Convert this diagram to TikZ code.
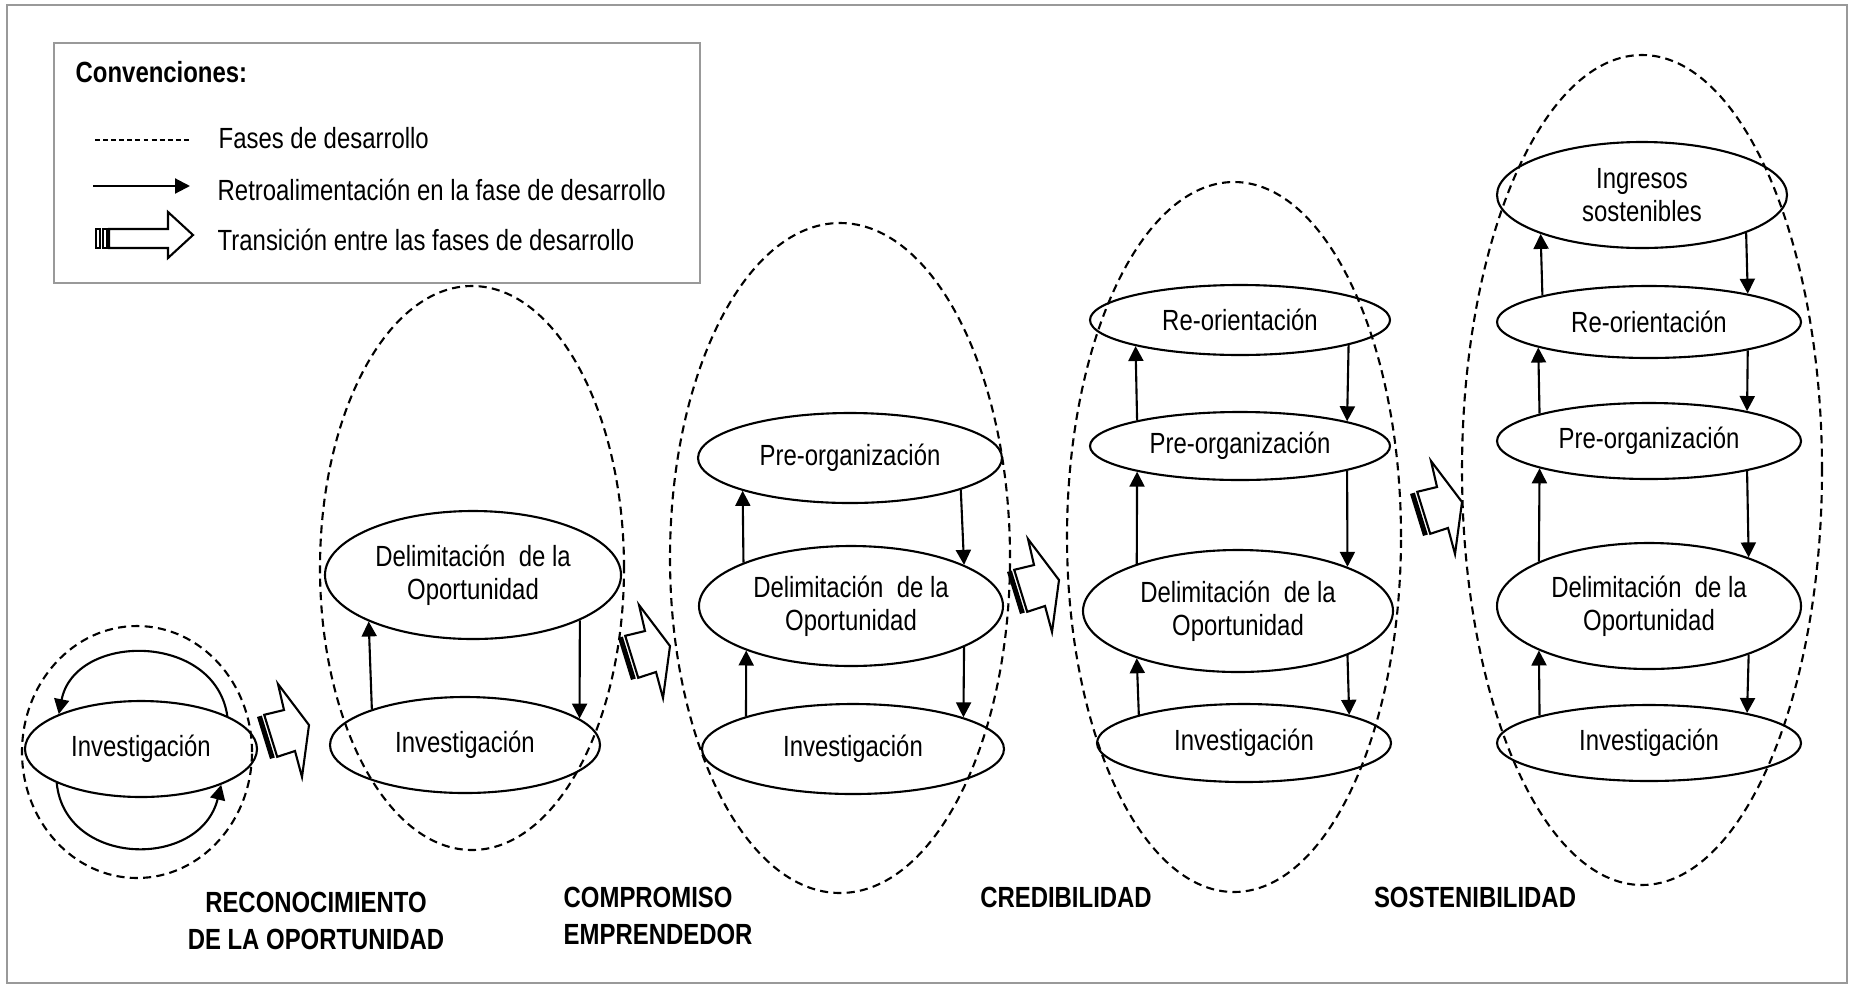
\documentclass[tikz,border=0pt]{standalone}
\usepackage{fontspec}
\setmainfont{Liberation Sans}[FakeStretch=0.82]
\usetikzlibrary{shapes.geometric,arrows.meta}
\newcommand\fb[9]{%
  \pgfmathsetmacro\fbA{atan2(#1*#5*sqrt(1-(#3/#4)^2),#3)}%
  \pgfmathsetmacro\fbB{atan2(-#1*#9*sqrt(1-(#7/#8)^2),#7)}%
  \draw[fbarrow] (#2.\fbA) -- (#6.\fbB);}
\begin{document}
\begin{tikzpicture}[x=0.1mm,y=-0.1mm,
  every node/.style={font=\fontsize{8.3}{9.5}\selectfont},
  el/.style={ellipse, draw, line width=0.6pt, inner sep=0pt, align=center},
  phase/.style={ellipse, draw, line width=0.6pt, inner sep=0pt, dash pattern=on 2.3pt off 1.5pt},
  fbarrow/.style={line width=0.6pt, -{Triangle[length=1.5mm,width=1.5mm]}},
  lab/.style={font=\fontsize{8.3}{10.5}\selectfont\bfseries, align=center, inner sep=0pt},
  trans/.pic={
    \fill (0,0) -- (4.8,-1.5) -- (17.8,40.5) -- (13,42) -- cycle;
    \draw[fill=white, line width=0.6pt, line join=miter] (7.2,-2.2) -- (27,-7) -- (21,-33) -- (52,8) -- (45,60) -- (38,34) -- (20.2,39.8) -- cycle;
  }]
\useasboundingbox (0,0) rectangle (1852,986);
\draw[gray!80, line width=0.6pt] (7,5) rectangle (1847,983);

% legend
\node[draw=gray!80, line width=0.6pt, minimum width=64.6mm, minimum height=24mm, inner sep=0pt] (legend) at (377,163) {};
\node[anchor=base west, inner sep=0pt, font=\fontsize{8.3}{9.5}\selectfont\bfseries] (conv) at (75,82) {Convenciones:};
\coordinate (ds) at (95,140); \coordinate (de) at (190,140);
\draw[line width=0.4pt, dash pattern=on 1.4pt off 0.9pt] (ds) -- (de);
\node[anchor=base west, inner sep=0pt] (t1) at (218,148) {Fases de desarrollo};
\coordinate (as) at (93,186); \coordinate (ae) at (190,186);
\draw[fbarrow] (as) -- (ae);
\node[anchor=base west, inner sep=0pt] (t2) at (217,200) {Retroalimentación en la fase de desarrollo};
\draw[line width=0.6pt] (96,229) rectangle (100,248);
\draw[line width=0.6pt] (103,229) rectangle (107,248);
\draw[line width=0.6pt, line join=miter] (109,229) -- (168,229) -- (168,212) -- (193,235) -- (168,258) -- (168,248) -- (109,248) -- cycle;
\node[anchor=base west, inner sep=0pt] (t3) at (217,250) {Transición entre las fases de desarrollo};

% phase 1
\node[phase, minimum width=23mm, minimum height=25.2mm] (ph1) at (137,752) {};
\node[el, minimum width=23.2mm, minimum height=9.6mm] (inv1) at (141,749) {Investigación};
\draw[fbarrow] (inv1.21) .. controls (215,632) and (75,632) .. (inv1.157);
\draw[fbarrow] (inv1.202) .. controls (65,867) and (200,870) .. (inv1.-24);

% phase 2
\node[phase, minimum width=30.4mm, minimum height=56.4mm] (ph2) at (472,568) {};
\node[el, minimum width=29.6mm, minimum height=12.8mm] (del2) at (473,575) {Delimitación\ \ de la\\Oportunidad};
\node[el, minimum width=27mm, minimum height=9.6mm] (inv2) at (465,745) {Investigación};
\fb{1}{inv2}{-93}{135}{48}{del2}{-104}{148}{64}
\fb{-1}{del2}{104}{148}{64}{inv2}{112}{135}{48}

% phase 3
\node[phase, minimum width=34mm, minimum height=67mm] (ph3) at (840,558) {};
\node[el, minimum width=30.4mm, minimum height=9mm] (pre3) at (850,458) {Pre-organización};
\node[el, minimum width=30.4mm, minimum height=12mm] (del3) at (851,606) {Delimitación\ \ de la\\Oportunidad};
\node[el, minimum width=30.2mm, minimum height=9mm] (inv3) at (853,749) {Investigación};
\fb{1}{inv3}{-106}{151}{45}{del3}{-105}{152}{60}
\fb{1}{del3}{-107}{152}{60}{pre3}{-106}{152}{45}
\fb{-1}{pre3}{107}{152}{45}{del3}{111}{152}{60}
\fb{-1}{del3}{110}{152}{60}{inv3}{108}{151}{45}

% phase 4
\node[phase, minimum width=33.4mm, minimum height=71mm] (ph4) at (1234,537) {};
\node[el, minimum width=30mm, minimum height=7mm] (reo4) at (1240,320) {Re-orientación};
\node[el, minimum width=30mm, minimum height=6.8mm] (pre4) at (1240,446) {Pre-organización};
\node[el, minimum width=31mm, minimum height=12.2mm] (del4) at (1238,611) {Delimitación\ \ de la\\Oportunidad};
\node[el, minimum width=29.4mm, minimum height=7.8mm] (inv4) at (1244,743) {Investigación};
\fb{-1}{reo4}{104}{150}{35}{pre4}{104}{150}{34}
\fb{1}{pre4}{-104}{150}{34}{reo4}{-104}{150}{35}
\fb{-1}{pre4}{104}{150}{34}{del4}{106}{155}{61}
\fb{1}{del4}{-100}{155}{61}{pre4}{-102}{150}{34}
\fb{-1}{del4}{106}{155}{61}{inv4}{100}{147}{39}
\fb{1}{inv4}{-106}{147}{39}{del4}{-100}{155}{61}

% phase 5
\node[phase, minimum width=36mm, minimum height=83mm] (ph5) at (1642,470) {};
\node[el, minimum width=29mm, minimum height=10.6mm] (ing5) at (1642,195) {Ingresos\\sostenibles};
\node[el, minimum width=30.4mm, minimum height=7.2mm] (reo5) at (1649,322) {Re-orientación};
\node[el, minimum width=30.4mm, minimum height=7.6mm] (pre5) at (1649,441) {Pre-organización};
\node[el, minimum width=30.4mm, minimum height=12.6mm] (del5) at (1649,606) {Delimitación\ \ de la\\Oportunidad};
\node[el, minimum width=30.4mm, minimum height=7.6mm] (inv5) at (1649,743) {Investigación};
\fb{-1}{ing5}{102}{145}{53}{reo5}{95}{152}{36}
\fb{1}{reo5}{-108}{152}{36}{ing5}{-101}{145}{53}
\fb{-1}{reo5}{96}{152}{36}{pre5}{96}{152}{38}
\fb{1}{pre5}{-111}{152}{38}{reo5}{-111}{152}{36}
\fb{-1}{pre5}{96}{152}{38}{del5}{96}{152}{63}
\fb{1}{del5}{-111}{152}{63}{pre5}{-111}{152}{38}
\fb{-1}{del5}{96}{152}{63}{inv5}{96}{152}{38}
\fb{1}{inv5}{-111}{152}{38}{del5}{-111}{152}{63}

% transitions
\pic (tr1) at (257,717) {trans};
\pic (tr2) at (618,638) {trans};
\pic (tr3) at (1007,572) {trans};
\pic (tr4) at (1410,494) {trans};

% phase labels
\node[lab] (l1) at (316,921) {RECONOCIMIENTO\\DE LA OPORTUNIDAD};
\node[lab, align=left, anchor=west] (l2) at (563,916) {COMPROMISO\\EMPRENDEDOR};
\node[lab] (l3) at (1066,897) {CREDIBILIDAD};
\node[lab] (l4) at (1475,897) {SOSTENIBILIDAD};
\end{tikzpicture}
\end{document}
